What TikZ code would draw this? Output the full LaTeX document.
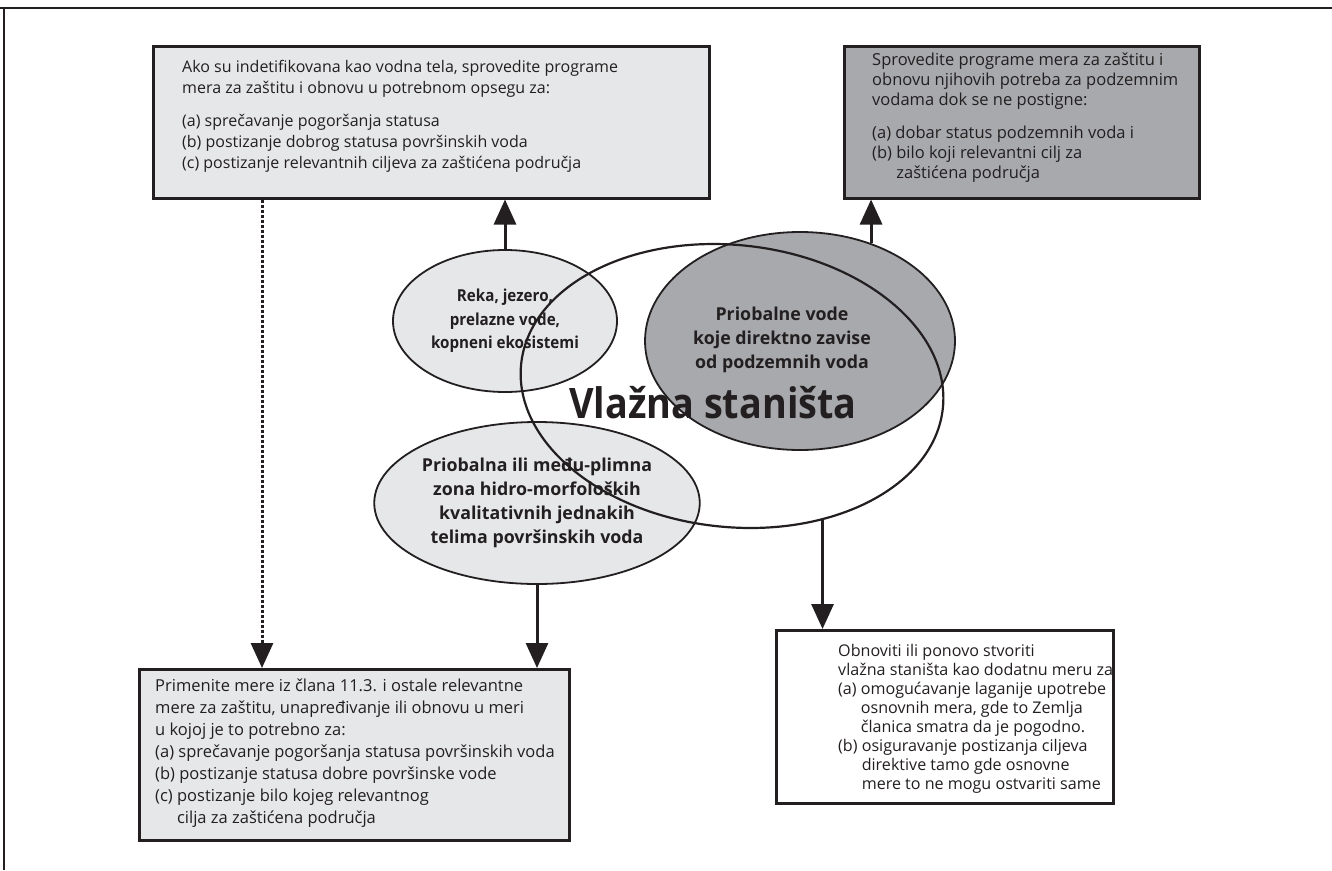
\documentclass[tikz,border=0pt]{standalone}
\usepackage{fontspec}
\setmainfont{Open Sans}
\newfontfamily\headfont[FakeStretch=0.9]{Open Sans}
\newfontfamily\ovalfont[FakeStretch=0.92]{Open Sans}
\usepackage{tikz}
\usetikzlibrary{shapes.geometric,arrows.meta,positioning}

\definecolor{lightgr}{HTML}{E6E7E8}
\definecolor{darkgr}{HTML}{A7A9AC}
\definecolor{ink}{HTML}{231F20}

\tikzset{
  box/.style={draw=ink,line width=2.5pt,anchor=north west,inner sep=0pt},
  lightbox/.style={box,fill=lightgr},
  darkbox/.style={box,fill=darkgr},
  whitebox/.style={box,fill=white},
  boxtext/.style={anchor=north west,inner sep=0pt,align=left,text=ink,
    font=\fontsize{16.5}{20}\selectfont},
  oval/.style={ellipse,draw=ink,line width=1.8pt,inner sep=0pt,align=center,text=ink,
    font=\bfseries\fontsize{17.8}{24}\selectfont},
  arr/.style={draw=ink,line width=3pt,-{Triangle[length=25pt,width=22pt]}},
  dotarr/.style={arr,dash pattern=on 3pt off 2pt}
}

\begin{document}
\begin{tikzpicture}[x=1pt,y=-1pt]
\useasboundingbox (0,0) rectangle (1332,870);
\draw[ink,line width=2.5pt] (0,8) -- (1332,8) (4,8) -- (4,870);

\node[lightbox,minimum width=556pt,minimum height=152pt] (ako) at (152,45) {};
\node[boxtext,font=\fontsize{16}{21}\selectfont] (akotxt) at (182,60) {Ako su indetifikovana kao vodna tela, sprovedite programe\\
  mera za zaštitu i obnovu u potrebnom opsegu za:\\[12pt]
  (a) sprečavanje pogoršanja statusa\\
  (b) postizanje dobrog statusa površinskih voda\\
  (c) postizanje relevantnih ciljeva za zaštićena područja};

\node[darkbox,minimum width=355pt,minimum height=152pt] (spro) at (843,45) {};
\node[boxtext] (sprotxt) at (872,53) {Sprovedite programe mera za zaštitu i\\
  obnovu njihovih potreba za podzemnim\\
  vodama dok se ne postigne:\\[13pt]
  (a) dobar status podzemnih voda i\\
  (b) bilo koji relevantni cilj za\\
  \hphantom{(b) }zaštićena područja};

\node[lightbox,minimum width=430pt,minimum height=171pt] (prim) at (138,668) {};
\node[boxtext,font=\fontsize{16.5}{22}\selectfont] (primtxt) at (155,679) {Primenite mere iz člana 11.3. i ostale relevantne\\
  mere za zaštitu, unapređivanje ili obnovu u meri\\
  u kojoj je to potrebno za:\\
  (a) sprečavanje pogoršanja statusa površinskih voda\\
  (b) postizanje statusa dobre površinske vode\\
  (c) postizanje bilo kojeg relevantnog\\
  \hphantom{(c) }cilja za zaštićena područja};

\node[whitebox,minimum width=337pt,minimum height=173pt] (obn) at (775,629) {};
\node[boxtext,font=\fontsize{16.1}{19}\selectfont] (obntxt) at (838,644) {Obnoviti ili ponovo stvoriti\\
  vlažna staništa kao dodatnu meru za\\
  (a) omogućavanje laganije upotrebe\\
  \hphantom{(a) }osnovnih mera, gde to Zemlja\\
  \hphantom{(a) }članica smatra da je pogodno.\\
  (b) osiguravanje postizanja ciljeva\\
  \hphantom{(b) }direktive tamo gde osnovne\\
  \hphantom{(b) }mere to ne mogu ostvariti same};

\node[oval,fill=lightgr,minimum width=224pt,minimum height=142pt,
  font=\ovalfont\bfseries\fontsize{16.5}{23.5}\selectfont] (reka) at (505,321)
  {Reka, jezero,\\ prelazne vode,\\ kopneni ekosistemi};
\node[oval,fill=darkgr,minimum width=310pt,minimum height=218pt] (prio) at (800,341) {};
\node[oval,draw=none] (priotxt) at (782,340) {Priobalne vode\\ koje direktno zavise\\ od podzemnih voda};
\node[oval,fill=lightgr,minimum width=292pt,minimum height=162pt] (povr) at (537,503)
  {Priobalna ili među-plimna\\ zona hidro-morfoloških\\ kvalitativnih jednakih\\ telima površinskih voda};
\node[text=ink,inner sep=0pt,font=\headfont\bfseries\fontsize{42}{42}\selectfont] (vlaztxt) at (713,403) {Vlažna staništa};
\node[ellipse,draw=ink,line width=2.2pt,minimum width=424pt,minimum height=282pt,rotate=-6] (vlazna) at (732,386) {};

\draw[arr] (reka.north) -- (reka.north |- ako.south);
\draw[arr] (prio.54) -- (prio.54 |- spro.south);
\draw[arr] (povr.south) -- (povr.south |- prim.north);
\draw[arr] (vlazna.-50) -- (vlazna.-50 |- obn.north);
\draw[dotarr] ([xshift=110pt]ako.south west) -- ([xshift=110pt]ako.south west |- prim.north);
\end{tikzpicture}
\end{document}
